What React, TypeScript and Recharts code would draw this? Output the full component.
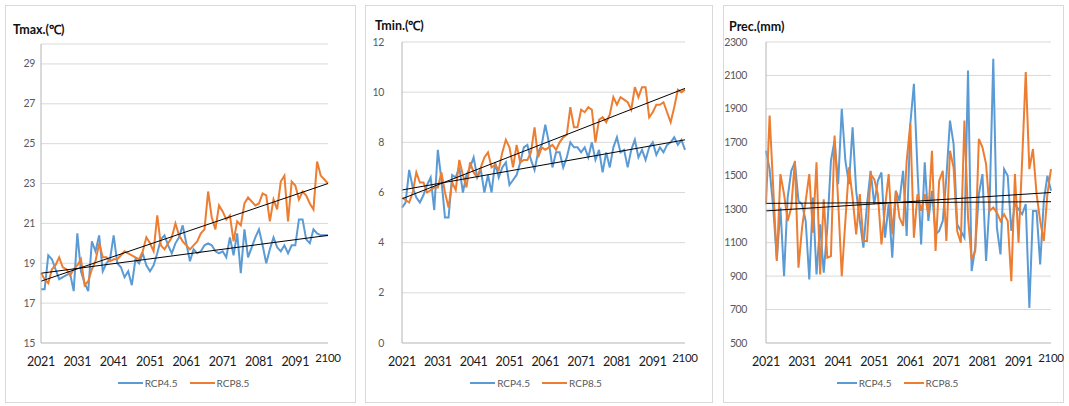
import React from 'react';
import { LineChart, Line, XAxis, YAxis, CartesianGrid, ReferenceLine, Legend } from 'recharts';

const FONT = 'Lato, "Liberation Sans", Arial, sans-serif';
const BLUE = '#5B9BD5';
const ORANGE = '#ED7D31';

const years = Array.from({ length: 80 }, (_, i) => 2021 + i);
const yearTicks = [2021, 2031, 2041, 2051, 2061, 2071, 2081, 2091, 2100];

// Tmax (°C)
const tmax45 = [
  17.7, 17.7, 19.4, 19.2, 18.7, 18.2, 18.3, 18.4, 18.5, 17.6,
  20.5, 18.6, 18.0, 17.6, 20.1, 19.6, 20.4, 18.6, 19.0, 19.2,
  20.4, 19.0, 18.8, 18.3, 18.6, 17.9, 19.2, 19.0, 19.5, 18.9,
  18.6, 18.9, 19.5, 20.2, 20.4, 19.9, 19.5, 20.0, 20.3, 20.9,
  20.0, 19.1, 19.7, 19.5, 19.6, 19.9, 20.0, 19.9, 19.6, 19.5,
  19.6, 19.3, 20.3, 19.4, 20.5, 18.5, 20.7, 19.3, 19.8, 20.3,
  20.7, 19.9, 19.0, 19.7, 20.3, 19.8, 19.6, 19.9, 19.5, 19.9,
  19.9, 21.2, 21.2, 20.2, 20.0, 20.7, 20.5, 20.4, 20.4, 20.4,
];
const tmax85 = [
  18.5, 18.2, 18.0, 18.7, 18.9, 19.3, 18.8, 18.7, 18.4, 18.7,
  18.9, 19.2, 17.9, 18.1, 18.7, 19.1, 20.0, 19.3, 19.3, 19.1,
  19.2, 19.2, 19.4, 19.6, 19.5, 19.4, 19.3, 19.2, 19.6, 20.3,
  20.0, 19.6, 21.4, 19.9, 19.7, 20.0, 20.3, 21.0, 20.4, 20.1,
  19.9, 19.7, 19.9, 20.1, 20.5, 20.7, 22.6, 21.3, 20.7, 21.9,
  21.6, 21.2, 21.4, 20.1, 21.1, 20.9, 22.0, 22.3, 22.1, 21.9,
  22.0, 22.5, 22.4, 21.1, 22.2, 21.7, 23.1, 23.4, 21.1, 23.1,
  22.9, 22.2, 22.6, 22.4, 22.0, 21.7, 24.1, 23.4, 23.2, 23.0,
];
const tmaxTicks = [15, 17, 19, 21, 23, 25, 27, 29];
const tmaxTrend45 = [18.5, 20.4];
const tmaxTrend85 = [18.1, 23.0];

// Tmin (°C)
const tmin45 = [
  5.4, 5.6, 6.9, 6.2, 5.8, 5.6, 5.9, 6.3, 6.6, 5.3,
  7.7, 6.5, 5.0, 5.0, 6.7, 6.6, 7.0, 6.0, 6.7, 7.0,
  7.4, 6.6, 6.9, 6.0, 6.7, 6.0, 7.2, 6.6, 7.0, 7.2,
  6.3, 6.5, 6.7, 7.2, 7.8, 7.9, 7.3, 6.9, 7.6, 7.9,
  8.7, 8.0, 7.0, 7.6, 7.6, 7.0, 7.4, 8.0, 7.8, 7.8,
  7.6, 7.8, 7.4, 8.0, 7.3, 7.7, 6.8, 7.6, 7.0, 7.8,
  8.2, 7.6, 7.7, 7.0, 7.7, 8.1, 7.4, 7.7, 7.3, 7.8,
  8.0, 7.5, 7.8, 7.6, 7.9, 8.0, 8.2, 7.9, 8.1, 7.7,
];
const tmin85 = [
  5.8, 5.7, 5.6, 6.0, 6.8, 6.4, 6.4, 6.0, 6.1, 6.2,
  6.2, 6.8, 6.0, 5.4, 6.4, 6.1, 7.3, 6.7, 6.2, 7.2,
  6.8, 6.6, 7.0, 7.4, 7.6, 7.0, 7.1, 6.9, 7.6, 8.1,
  7.8, 7.0, 7.9, 7.2, 7.3, 7.3, 7.6, 8.6, 7.4, 7.8,
  7.7, 7.8, 7.9, 7.7, 8.0, 8.2, 8.3, 9.4, 8.6, 8.6,
  9.3, 9.2, 9.4, 9.3, 8.0, 8.9, 9.0, 8.8, 9.1, 9.8,
  9.5, 9.8, 9.7, 9.6, 9.3, 10.2, 9.8, 10.2, 10.2, 9.0,
  9.2, 9.5, 9.5, 9.6, 9.2, 8.8, 9.4, 10.1, 10.0, 10.1,
];
const tminTicks = [0, 2, 4, 6, 8, 10, 12];
const tminTrend45 = [6.1, 8.1];
const tminTrend85 = [5.75, 10.15];

// Prec (mm)
const prec45 = [
  1650, 1540, 1310, 1000, 1310, 900, 1370, 1530, 1580, 1350,
  1330, 1230, 880, 1370, 910, 1210, 920, 1190, 1590, 1710,
  1450, 1900, 1590, 1450, 1790, 1410, 1230, 1070, 1330, 1530,
  1330, 1470, 1520, 1130, 1330, 1010, 1410, 1350, 1530, 1140,
  1810, 2050, 1530, 1090, 1580, 1230, 1410, 1150, 1170, 1230,
  1490, 1830, 1690, 1210, 1170, 1130, 2130, 930, 1070, 1390,
  1510, 990, 1350, 2200, 1190, 1030, 1540, 1500, 1170, 1330,
  1300, 1270, 1330, 710, 1290, 1290, 970, 1350, 1500, 1410,
];
const prec85 = [
  1330, 1860, 1430, 990, 1510, 1390, 1230, 1310, 1590, 950,
  1190, 1350, 1510, 1160, 1580, 910, 1360, 1010, 1020, 1740,
  1350, 900, 1230, 1550, 1370, 1150, 1390, 1110, 1110, 1510,
  1480, 1390, 1090, 1310, 1510, 1150, 1410, 1250, 1200, 1590,
  1810, 1130, 1390, 1290, 1390, 1270, 1650, 1050, 1470, 1530,
  1110, 1650, 1550, 1170, 1100, 1830, 1250, 1000, 1050, 1720,
  1670, 1570, 1290, 1310, 1280, 1230, 1270, 1230, 870, 1510,
  1100, 1590, 2120, 1540, 1660, 1390, 1230, 1110, 1390, 1540,
];
const precTicks = [500, 700, 900, 1100, 1300, 1500, 1700, 1900, 2100, 2300];
const precTrend45 = [1335, 1345];
const precTrend85 = [1290, 1400];

const YearTick = (props: any) => {
  const { x, y, payload } = props;
  const end = payload.value === 2100;
  return (
    <text
      x={x}
      y={y + (end ? 19 : 23)}
      textAnchor="middle"
      fill="#1a1a1a"
      fontSize={end ? 11.5 : 12.5}
      fontFamily={FONT}
      letterSpacing={-0.3}
    >
      {payload.value}
    </text>
  );
};

const ValueTick = (props: any) => {
  const { x, y, payload } = props;
  return (
    <text
      x={x}
      y={y + 3.5}
      textAnchor="end"
      fill="#595959"
      fontSize={10.5}
      fontFamily={FONT}
      letterSpacing={-0.4}
    >
      {payload.value}
    </text>
  );
};

interface PanelProps {
  left: number;
  width: number;
  title: string;
  titleX: number;
  titleY: number;
  a: number[];
  b: number[];
  trendA: number[];
  trendB: number[];
  domain: [number, number];
  ticks: number[];
  top: number;
  right: number;
  yWidth: number;
  yGap: number;
  legendShift: number;
  legendLine: number;
}

function Panel(p: PanelProps) {
  const height = 398;
  const data = years.map((year, i) => ({ year, rcp45: p.a[i], rcp85: p.b[i] }));

  const renderLegend = (props: any) => {
    const items = (props.payload || []).filter((e: any) => e.value === 'RCP4.5' || e.value === 'RCP8.5');
    return (
      <div
        style={{
          display: 'flex',
          justifyContent: 'center',
          alignItems: 'center',
          height: 20,
          transform: `translateX(${p.legendShift}px)`,
          fontFamily: FONT,
          fontSize: 10,
          color: '#595959',
        }}
      >
        {items.map((e: any) => (
          <span key={e.value} style={{ display: 'flex', alignItems: 'center', margin: '0 6px' }}>
            <span style={{ width: p.legendLine, height: 2, background: e.color, marginRight: 2 }} />
            {e.value}
          </span>
        ))}
      </div>
    );
  };

  return (
    <div
      style={{
        position: 'absolute',
        left: p.left,
        top: 5,
        width: p.width,
        height,
        boxSizing: 'border-box',
        border: '1px solid #d9d9d9',
        background: '#fff',
      }}
    >
      <div
        style={{
          position: 'absolute',
          left: p.titleX - 1,
          top: p.titleY - 9,
          fontFamily: FONT,
          fontWeight: 700,
          fontSize: 12.5,
          lineHeight: '15px',
          color: '#111',
          whiteSpace: 'nowrap',
        }}
      >
        {p.title}
      </div>
      <div style={{ position: 'absolute', left: -1, top: -1 }}>
        <LineChart
          width={p.width}
          height={height}
          data={data}
          margin={{ top: p.top, right: p.right, bottom: 10, left: 0 }}
        >
          <CartesianGrid vertical={false} stroke="#d9d9d9" />
          <XAxis
            dataKey="year"
            type="number"
            domain={[2021, 2100]}
            ticks={yearTicks}
            interval={0}
            height={30}
            tickLine={false}
            tickSize={0}
            tickMargin={0}
            axisLine={{ stroke: '#c8c8c8' }}
            tick={<YearTick />}
          />
          <YAxis
            type="number"
            domain={p.domain}
            ticks={p.ticks}
            interval={0}
            width={p.yWidth}
            tickLine={false}
            tickSize={0}
            tickMargin={p.yGap}
            axisLine={{ stroke: '#b4b4b4' }}
            tick={<ValueTick />}
          />
          <Line
            type="linear"
            dataKey="rcp45"
            name="RCP4.5"
            stroke={BLUE}
            strokeWidth={2}
            dot={false}
            isAnimationActive={false}
          />
          <Line
            type="linear"
            dataKey="rcp85"
            name="RCP8.5"
            stroke={ORANGE}
            strokeWidth={2}
            dot={false}
            isAnimationActive={false}
          />
          <ReferenceLine
            segment={[{ x: 2021, y: p.trendA[0] }, { x: 2100, y: p.trendA[1] }]}
            stroke="#000"
            strokeWidth={1}
          />
          <ReferenceLine
            segment={[{ x: 2021, y: p.trendB[0] }, { x: 2100, y: p.trendB[1] }]}
            stroke="#000"
            strokeWidth={1}
          />
          <Legend
            verticalAlign="bottom"
            height={20}
            wrapperStyle={{ left: 0, width: p.width }}
            content={renderLegend}
          />
        </LineChart>
      </div>
    </div>
  );
}

export default function App() {
  return (
    <div style={{ position: 'fixed', left: 0, top: 0, width: 1069, height: 406, background: '#fff' }}>
      <Panel
        left={5}
        width={351}
        title="Tmax.(℃)"
        titleX={8}
        titleY={25}
        a={tmax45}
        b={tmax85}
        trendA={tmaxTrend45}
        trendB={tmaxTrend85}
        domain={[15, 30]}
        ticks={tmaxTicks}
        top={39}
        right={28}
        yWidth={36}
        yGap={6}
        legendShift={3}
        legendLine={25}
      />
      <Panel
        left={365}
        width={348}
        title="Tmin.(℃)"
        titleX={10}
        titleY={21}
        a={tmin45}
        b={tmin85}
        trendA={tminTrend45}
        trendB={tminTrend85}
        domain={[0, 12]}
        ticks={tminTicks}
        top={37}
        right={28}
        yWidth={37}
        yGap={18}
        legendShift={-3}
        legendLine={25}
      />
      <Panel
        left={723}
        width={341}
        title="Prec.(mm)"
        titleX={6}
        titleY={22}
        a={prec45}
        b={prec85}
        trendA={precTrend45}
        trendB={precTrend85}
        domain={[500, 2300]}
        ticks={precTicks}
        top={37}
        right={13}
        yWidth={43}
        yGap={19}
        legendShift={4}
        legendLine={20}
      />
    </div>
  );
}
